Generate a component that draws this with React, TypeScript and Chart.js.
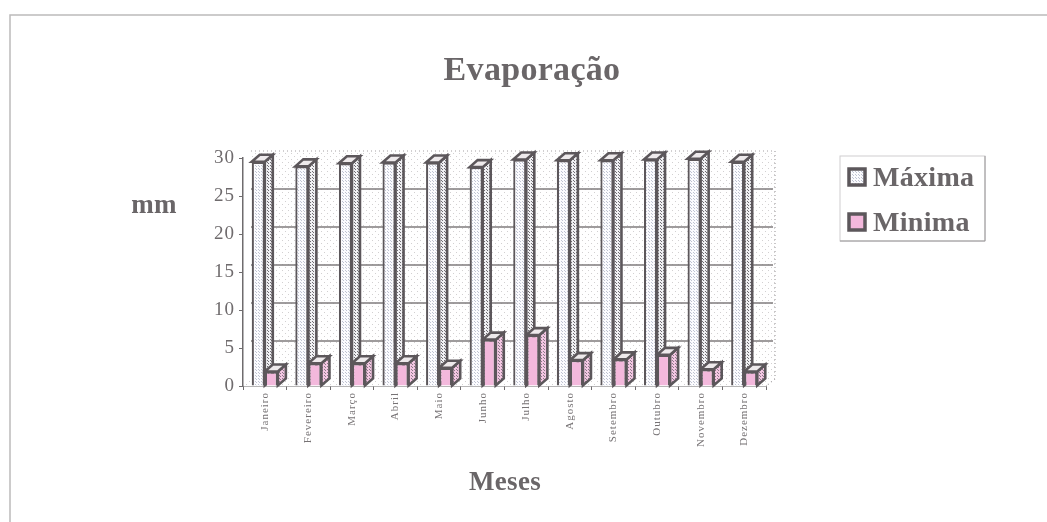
import React, { useEffect, useRef } from "react";
import { Chart, registerables } from "chart.js";

Chart.register(...registerables);

const months = ["Janeiro", "Fevereiro", "Março", "Abril", "Maio", "Junho", "Julho", "Agosto", "Setembro", "Outubro", "Novembro", "Dezembro"];
const maxima = [29.5, 28.9, 29.3, 29.4, 29.4, 28.8, 29.8, 29.7, 29.7, 29.8, 29.9, 29.5];
const minima = [1.9, 3.0, 3.0, 3.0, 2.4, 6.1, 6.7, 3.4, 3.5, 4.1, 2.2, 1.9];
const seriesNames = ["Máxima", "Minima"];
const chartTitle = "Evaporação";
const yTitle = "mm";
const xTitle = "Meses";

const INK = "#5c575b";
const TEXT = "#6a6668";
const SERIF = "'Liberation Serif', serif";
const DEPTH_X = 8;
const DEPTH_Y = 7;

// Small tiled dot texture used for bar faces and the back wall.
function dots(size: number, bg: string, dot: string): CanvasPattern {
  const c = document.createElement("canvas");
  c.width = size;
  c.height = size;
  const g = c.getContext("2d")!;
  g.fillStyle = bg;
  g.fillRect(0, 0, size, size);
  g.fillStyle = dot;
  g.fillRect(0, 0, 1, 1);
  g.fillRect(size >> 1, size >> 1, 1, 1);
  return g.createPattern(c, "repeat")!;
}

function polygon(ctx: CanvasRenderingContext2D, pts: number[][], fill: any, stroke?: string, lw = 1) {
  ctx.beginPath();
  pts.forEach(([x, y], i) => (i ? ctx.lineTo(x, y) : ctx.moveTo(x, y)));
  ctx.closePath();
  ctx.fillStyle = fill;
  ctx.fill();
  if (stroke) {
    ctx.strokeStyle = stroke;
    ctx.lineWidth = lw;
    ctx.stroke();
  }
}

export default function App() {
  const ref = useRef<HTMLCanvasElement>(null);

  useEffect(() => {
    const canvas = ref.current!;
    const wallFill = dots(6, "#ffffff", "#d2d0d1");
    const maxFront = dots(3, "#fbfbfe", "#bfc3d2");
    const maxSide = dots(3, "#f0f0f3", "#6f6c72");
    const minFront = "#f3b8dc";
    const minSide = dots(3, "#f3c6e2", "#8b7a88");

    const sideFills = [maxSide, minSide];

    const scenery = {
      id: "scenery",
      // Slightly tracked lettering for both axes' tick labels.
      beforeDraw(chart: any) {
        chart.ctx.letterSpacing = "1px";
      },
      // Page frame, back wall, floor, wall gridlines and the 3D faces of every bar.
      beforeDatasetsDraw(chart: any) {
        const { ctx, chartArea: a, scales } = chart;
        ctx.save();
        ctx.strokeStyle = "#bcbabb";
        ctx.lineWidth = 1.5;
        ctx.beginPath();
        ctx.moveTo(1047, 15);
        ctx.lineTo(10, 15);
        ctx.lineTo(10, 522);
        ctx.stroke();

        const top = a.top - DEPTH_Y;
        const bottom = a.bottom - DEPTH_Y;
        const left = a.left + DEPTH_X;
        const right = a.right + DEPTH_X + 1;
        polygon(ctx, [[left, top], [right, top], [right, bottom], [left, bottom]], wallFill);
        polygon(ctx, [[a.left, a.bottom], [a.right, a.bottom], [right, bottom], [left, bottom]], wallFill);

        ctx.strokeStyle = "#807c7e";
        ctx.lineWidth = 1.5;
        ctx.beginPath();
        for (const t of scales.y.ticks) {
          if (t.value === 0 || t.value === 30) continue;
          const y = scales.y.getPixelForValue(t.value) - DEPTH_Y;
          ctx.moveTo(left, y);
          ctx.lineTo(right - 2, y);
        }
        ctx.stroke();

        ctx.setLineDash([1, 3]);
        ctx.strokeStyle = "#a5a2a4";
        ctx.lineWidth = 1.2;
        ctx.beginPath();
        ctx.moveTo(left, top);
        ctx.lineTo(right, top);
        ctx.lineTo(right, bottom);
        ctx.lineTo(a.right, a.bottom);
        ctx.stroke();
        ctx.setLineDash([]);

        // Tall series first so the short bars overlap its side face.
        chart.data.datasets.forEach((_: any, index: number) => {
          for (const bar of chart.getDatasetMeta(index).data) {
            const l = bar.x - bar.width / 2;
            const r = bar.x + bar.width / 2;
            const y = bar.y;
            const b = bar.base;
            polygon(ctx, [[r, y], [r + DEPTH_X, y - DEPTH_Y], [r + DEPTH_X, b - DEPTH_Y], [r, b]], sideFills[index], INK, 2.6);
            polygon(ctx, [[l, y], [l + DEPTH_X, y - DEPTH_Y], [r + DEPTH_X, y - DEPTH_Y], [r, y]], "#eeeaec", INK, 2.6);
          }
        });
        ctx.restore();
      },
      // Headings and the boxed key.
      afterDraw(chart: any) {
        const { ctx } = chart;
        ctx.save();
        ctx.fillStyle = TEXT;
        ctx.textBaseline = "middle";
        ctx.textAlign = "center";
        ctx.letterSpacing = "0.3px";
        ctx.font = `bold 34px ${SERIF}`;
        ctx.fillText(chartTitle, 532, 71);
        ctx.font = `bold 27px ${SERIF}`;
        ctx.fillText(yTitle, 154, 206);
        ctx.fillText(xTitle, 505, 483);

        ctx.fillStyle = "#ffffff";
        ctx.fillRect(840, 156, 145, 85);
        ctx.strokeStyle = "#d0cecf";
        ctx.lineWidth = 1;
        ctx.strokeRect(840, 156, 145, 85);
        ctx.strokeStyle = "#9a9899";
        ctx.beginPath();
        ctx.moveTo(985, 156);
        ctx.lineTo(985, 241);
        ctx.lineTo(840, 241);
        ctx.stroke();

        chart.data.datasets.forEach((ds: any, i: number) => {
          const cy = 177 + i * 45;
          ctx.fillStyle = ds.backgroundColor;
          ctx.strokeStyle = INK;
          ctx.lineWidth = 3.5;
          ctx.fillRect(849, cy - 8, 16, 16);
          ctx.strokeRect(849, cy - 8, 16, 16);
          ctx.fillStyle = TEXT;
          ctx.textAlign = "left";
          ctx.font = `bold 28px ${SERIF}`;
          ctx.fillText(ds.label, 873, cy + 2);
        });
        ctx.restore();
      },
    };

    const chart = new Chart(canvas, {
      type: "bar",
      data: {
        labels: months,
        datasets: [
          { label: seriesNames[0], data: maxima, backgroundColor: maxFront, borderColor: INK, borderWidth: 2.2 },
          { label: seriesNames[1], data: minima, backgroundColor: minFront, borderColor: INK, borderWidth: 2.2 },
        ],
      },
      options: {
        responsive: false,
        animation: false,
        layout: { padding: { left: 0, top: 158, right: 281, bottom: 0 } },
        datasets: { bar: { categoryPercentage: 0.6, barPercentage: 1 } },
        plugins: { legend: { display: false }, title: { display: false }, tooltip: { enabled: false } },
        scales: {
          x: {
            afterFit: (s: any) => { s.height = 136; },
            border: { color: "#6f6c6e", width: 1.5 },
            grid: { drawOnChartArea: false, color: "#6f6c6e", tickLength: 4 },
            ticks: {
              minRotation: 90,
              maxRotation: 90,
              autoSkip: false,
              color: "#777375",
              padding: 2,
              font: { family: SERIF, size: 11 },
            },
          },
          y: {
            min: 0,
            max: 30,
            afterFit: (s: any) => { s.width = 243; },
            border: { color: "#6f6c6e", width: 1.5 },
            grid: { drawOnChartArea: false, color: "#6f6c6e", tickLength: 4 },
            ticks: {
              stepSize: 5,
              color: "#6f6b6d",
              padding: 4,
              font: { family: SERIF, size: 19 },
            },
          },
        },
      },
      plugins: [scenery],
    } as any);

    return () => chart.destroy();
  }, []);

  return (
    <div style={{ position: "absolute", left: 0, top: 0, width: 1047, height: 522, background: "#fff" }}>
      <canvas ref={ref} width={1047} height={522} style={{ display: "block" }} />
    </div>
  );
}
